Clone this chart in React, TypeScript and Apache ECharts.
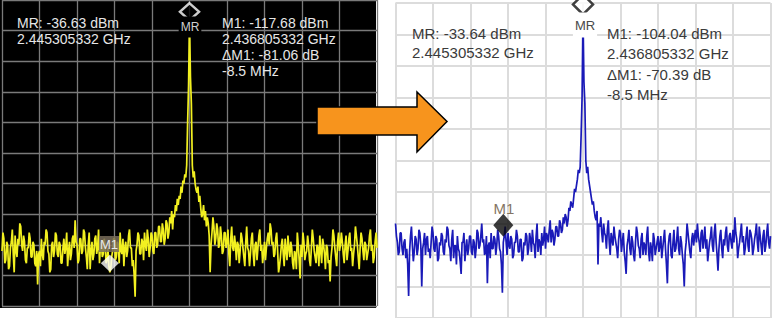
import React, { useEffect, useRef } from "react";
import * as echarts from "echarts";

// Sweep definition: offset from centre frequency (MHz)
const sweepStartMHz = -20;
const sweepStepMHz = 0.1;

// Trace before (yellow, dBm), -20 .. +20 MHz
const traceBefore = [
  -112, -106, -108, -116, -115, -109, -110, -118, -117, -111, -109, -105, -113, -119, -107, -112, -114, -108, -110, -103,
  -104, -110, -112, -107, -109, -115, -116, -111, -111, -106, -108, -114, -114, -109, -110, -116, -117, -112, -123, -113,
  -112, -117, -108, -113, -115, -109, -110, -105, -106, -112, -113, -119, -118, -110, -109, -114, -112, -106, -107, -113,
  -114, -109, -110, -116, -116, -111, -108, -113, -111, -106, -117, -112, -109, -115, -113, -108, -107, -111, -102, -109,
  -110, -116, -115, -108, -108, -113, -112, -105, -106, -111, -114, -118, -110, -106, -118, -112, -109, -115, -113, -108,
  -107, -113, -111, -105, -116, -110, -109, -114, -113, -108, -110, -116, -115, -111, -117, -119, -118, -114, -112, -108,
  -108, -115, -114, -109, -110, -116, -106, -112, -113, -108, -117, -111, -109, -114, -112, -107, -105, -111, -111, -117,
  -115, -120, -127, -112, -110, -106, -107, -113, -113, -108, -109, -115, -106, -110, -112, -105, -108, -114, -111, -106,
  -107, -112, -113, -106, -106, -111, -110, -104, -104, -109, -109, -103, -105, -110, -108, -102, -103, -108, -106, -101,
  -103, -99, -105, -100, -101, -97, -99, -95, -97, -94, -95, -91, -93, -89, -90, -87, -88, -84, -70, -58,
  -36.63,
  -55, -64, -84, -88, -86, -90, -92, -93, -91, -96, -94, -98, -101, -100, -97, -102, -99, -104, -101, -103,
  -107, -119, -110, -106, -101, -104, -110, -108, -103, -105, -111, -110, -104, -107, -113, -112, -106, -106, -111, -109,
  -105, -113, -117, -108, -104, -111, -112, -107, -110, -115, -109, -110, -116, -112, -106, -108, -111, -114, -117, -109,
  -104, -111, -112, -117, -113, -108, -106, -113, -117, -110, -109, -115, -111, -107, -105, -112, -110, -116, -113, -109,
  -115, -111, -108, -106, -110, -103, -105, -110, -109, -114, -113, -108, -106, -112, -119, -117, -114, -110, -108, -113,
  -117, -108, -112, -115, -107, -111, -114, -109, -111, -116, -118, -112, -113, -118, -106, -110, -115, -121, -110, -114,
  -106, -109, -115, -113, -112, -107, -110, -115, -117, -111, -105, -108, -112, -114, -116, -110, -111, -117, -107, -112,
  -116, -108, -110, -113, -118, -110, -111, -116, -115, -122, -114, -111, -105, -107, -111, -114, -117, -109, -106, -112,
  -110, -106, -109, -113, -116, -110, -107, -115, -112, -108, -106, -112, -111, -117, -113, -110, -104, -107, -110, -114,
  -118, -111, -106, -108, -112, -115, -109, -110, -115, -113, -111, -107, -105, -112, -110, -116, -114, -109, -106, -111,
];

// Trace after (blue, dBm), -20 .. +20 MHz
const traceAfter = [
  -100, -104, -106, -110, -109, -103, -103, -108, -110, -106, -105, -111, -108, -113, -123, -109, -104, -101, -107, -112,
  -109, -104, -105, -110, -108, -102, -103, -107, -120, -108, -106, -103, -110, -105, -104, -109, -108, -111, -106, -101,
  -103, -108, -109, -104, -105, -112, -111, -106, -107, -103, -104, -109, -110, -105, -106, -101, -102, -107, -108, -112,
  -105, -102, -111, -107, -107, -113, -104, -108, -109, -112, -116, -106, -106, -103, -112, -108, -105, -110, -108, -104,
  -104, -109, -110, -105, -106, -111, -108, -102, -103, -108, -107, -104, -100, -106, -105, -110, -109, -104, -119, -107,
  -106, -111, -103, -108, -108, -104, -105, -110, -107, -102, -104, -108, -109, -113, -122, -106, -104, -101, -106, -110,
  -103, -107, -108, -104, -105, -111, -110, -106, -106, -102, -104, -109, -109, -105, -105, -112, -111, -106, -107, -103,
  -104, -110, -108, -103, -105, -109, -102, -106, -107, -111, -104, -100, -109, -105, -106, -110, -103, -107, -105, -101,
  -108, -103, -104, -106, -102, -99, -106, -102, -103, -107, -105, -101, -101, -104, -104, -99, -100, -103, -102, -98,
  -100, -97, -98, -101, -99, -95, -96, -93, -94, -95, -92, -89, -90, -88, -86, -83, -84, -82, -72, -60,
  -33.64,
  -55, -62, -80, -84, -82, -86, -88, -90, -92, -94, -93, -96, -98, -99, -96, -113, -100, -101, -98, -103,
  -106, -100, -103, -104, -108, -102, -99, -106, -110, -103, -105, -107, -101, -104, -106, -108, -111, -105, -102, -103,
  -109, -106, -103, -109, -112, -116, -107, -105, -102, -108, -110, -104, -106, -110, -112, -106, -101, -103, -107, -108,
  -111, -105, -103, -110, -106, -107, -110, -104, -101, -109, -112, -106, -108, -112, -103, -105, -110, -108, -106, -104,
  -109, -107, -104, -111, -108, -105, -102, -108, -113, -119, -107, -104, -103, -110, -111, -106, -102, -109, -108, -105,
  -101, -108, -110, -104, -106, -110, -113, -120, -109, -106, -100, -103, -106, -109, -111, -105, -103, -107, -104, -102,
  -106, -100, -104, -106, -109, -103, -102, -108, -105, -101, -108, -105, -112, -109, -106, -104, -101, -107, -109, -103,
  -100, -106, -110, -115, -108, -104, -102, -108, -111, -105, -107, -103, -101, -107, -109, -104, -103, -106, -108, -102,
  -106, -98, -103, -105, -111, -108, -106, -103, -100, -106, -104, -110, -108, -104, -101, -107, -109, -102, -103, -105,
  -110, -108, -105, -103, -100, -106, -109, -101, -104, -107, -110, -104, -102, -109, -107, -103, -100, -106, -108, -104,
];

// Markers: MR, M1
const markerNames = ["MR", "M1"];
const markerFreqMHz = [0, -8.5];
const markerBefore = [-36.63, -117.68];
const markerAfter = [-33.64, -104.04];

const textBeforeMR = ["MR: -36.63 dBm", "2.445305332 GHz"];
const textBeforeM1 = ["M1: -117.68 dBm", "2.436805332 GHz", "\u0394M1: -81.06 dB", "-8.5 MHz"];
const textAfterMR = ["MR: -33.64 dBm", "2.445305332 GHz"];
const textAfterM1 = ["M1: -104.04 dBm", "2.436805332 GHz", "\u0394M1: -70.39 dB", "-8.5 MHz"];

const FONT = "Liberation Sans, Arial, sans-serif";

function toPairs(arr: number[]) {
  return arr.map((v, i) => [Math.round((sweepStartMHz + i * sweepStepMHz) * 10) / 10, v]);
}

export default function App() {
  const ref = useRef<HTMLDivElement>(null);
  useEffect(() => {
    if (!ref.current) return;
    const chart = echarts.init(ref.current, undefined, { renderer: "svg" });

    const xAxisBase = {
      type: "value",
      min: -20,
      max: 20,
      interval: 4,
      axisLabel: { show: false },
      axisTick: { show: false },
      axisLine: { show: false },
    };
    const yAxisBase = {
      type: "value",
      min: -130,
      max: -30,
      interval: 10,
      axisLabel: { show: false },
      axisTick: { show: false },
      axisLine: { show: false },
    };

    const textEls: any[] = [];
    const addLines = (lines: string[], x: number, y0: number, dy: number, size: number, color: string) => {
      lines.forEach((t, i) => {
        textEls.push({
          type: "text",
          x,
          y: y0 + i * dy,
          z: 50,
          style: { text: t, fill: color, font: `${size}px ${FONT}`, textVerticalAlign: "middle" },
        });
      });
    };
    addLines(textBeforeMR, 17, 23, 16, 14, "#e6e6e6");
    addLines(textBeforeM1, 222, 23, 16, 14, "#e6e6e6");
    addLines(textAfterMR, 412, 33, 19.5, 15, "#3a3a3a");
    addLines(textAfterM1, 607, 33, 20.5, 15, "#3a3a3a");

    const option: any = {
      animation: false,
      grid: [
        { left: 2, top: 0, width: 375, height: 306 },
        { left: 395.5, top: 3, width: 375, height: 320 },
      ],
      xAxis: [
        { ...xAxisBase, gridIndex: 0, splitLine: { show: true, lineStyle: { color: "#7a7a7a", width: 1.3 } } },
        { ...xAxisBase, gridIndex: 1, splitLine: { show: true, lineStyle: { color: "#dcdcdc", width: 2 } } },
      ],
      yAxis: [
        { ...yAxisBase, gridIndex: 0, splitLine: { show: true, lineStyle: { color: "#7a7a7a", width: 1.3 } } },
        { ...yAxisBase, gridIndex: 1, splitLine: { show: true, lineStyle: { color: "#dcdcdc", width: 2 } } },
      ],
      series: [
        {
          type: "line",
          xAxisIndex: 0,
          yAxisIndex: 0,
          data: toPairs(traceBefore),
          showSymbol: false,
          lineStyle: { color: "#f2f020", width: 1.7 },
          z: 3,
        },
        {
          type: "line",
          xAxisIndex: 1,
          yAxisIndex: 1,
          data: toPairs(traceAfter),
          showSymbol: false,
          lineStyle: { color: "#1a1ab8", width: 1.7 },
          z: 3,
        },
        {
          type: "scatter",
          xAxisIndex: 0,
          yAxisIndex: 0,
          clip: false,
          z: 10,
          data: [
            {
              value: [markerFreqMHz[0], markerBefore[0]],
              name: markerNames[0],
              symbol: "diamond",
              symbolSize: [19, 17],
              symbolOffset: [0, -8.5],
              itemStyle: { color: "#000", borderColor: "#ffffff", borderWidth: 2.5 },
            },
            {
              value: [markerFreqMHz[1], markerBefore[1]],
              name: markerNames[1],
              symbol: "diamond",
              symbolSize: [18, 17],
              symbolOffset: [0, -5],
              itemStyle: { color: "#ffffff" },
            },
          ],
        },
        {
          type: "scatter",
          xAxisIndex: 1,
          yAxisIndex: 1,
          clip: false,
          z: 10,
          data: [
            {
              value: [markerFreqMHz[0], markerAfter[0]],
              name: markerNames[0],
              symbol: "diamond",
              symbolSize: [20, 20],
              symbolOffset: [0, -10],
              itemStyle: { color: "#ffffff", borderColor: "#111", borderWidth: 2.5 },
            },
            {
              value: [markerFreqMHz[1], markerAfter[1]],
              name: markerNames[1],
              symbol: "diamond",
              symbolSize: [20, 23],
              symbolOffset: [0, -11],
              itemStyle: { color: "#0a0a0a" },
            },
          ],
        },
      ],
      graphic: [
        { type: "rect", z: -10, shape: { x: 0, y: 0, width: 376, height: 308 }, style: { fill: "#000" } },
        ...textEls,
        {
          type: "text",
          x: 190,
          y: 27,
          z: 50,
          style: {
            text: markerNames[0],
            fill: "#d0d0d0",
            font: `12px ${FONT}`,
            align: "center",
            verticalAlign: "middle",
            backgroundColor: "#000",
            padding: [5, 2, 4, 2],
          },
        },
        {
          type: "text",
          x: 109,
          y: 244,
          z: 50,
          style: {
            text: markerNames[1],
            fill: "#e8e8e8",
            font: `13px ${FONT}`,
            align: "center",
            verticalAlign: "middle",
            backgroundColor: "rgba(120,108,90,0.85)",
            padding: [2, 1, 1, 1],
          },
        },
        {
          type: "text",
          x: 585,
          y: 25,
          z: 50,
          style: {
            text: markerNames[0],
            fill: "#4a4a4a",
            font: `13px ${FONT}`,
            align: "center",
            verticalAlign: "middle",
            backgroundColor: "#fff",
            padding: [6, 2, 6, 2],
          },
        },
        {
          type: "text",
          x: 504,
          y: 208,
          z: 50,
          style: {
            text: markerNames[1],
            fill: "#857563",
            font: `15px ${FONT}`,
            align: "center",
            verticalAlign: "middle",
          },
        },
        {
          type: "polygon",
          z: 100,
          shape: {
            points: [
              [317, 107],
              [417, 107],
              [417, 92],
              [447, 121.5],
              [417, 152],
              [417, 135],
              [317, 135],
            ],
          },
          style: { fill: "#f7941d", stroke: "#000", lineWidth: 1.5 },
        },
      ],
    };
    chart.setOption(option);
    return () => chart.dispose();
  }, []);
  return (
    <div
      ref={ref}
      style={{ position: "absolute", left: 0, top: 0, width: 772, height: 318, background: "#fff" }}
    />
  );
}
